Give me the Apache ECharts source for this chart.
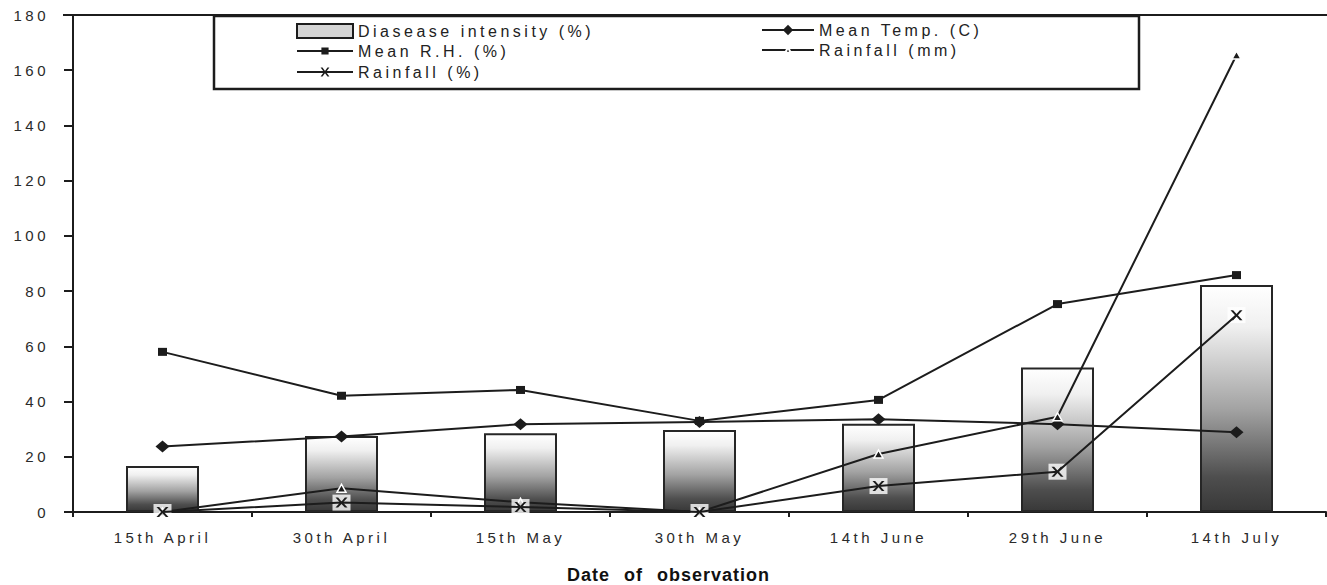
<!DOCTYPE html>
<html><head><meta charset="utf-8">
<script src="https://cdn.jsdelivr.net/npm/echarts@6/dist/echarts.min.js"></script>
<style>
html,body{margin:0;padding:0;background:#fff;}
#chart{width:1327px;height:585px;}
#chart text{letter-spacing:3.5px;}
#chart text[style*="bold"]{letter-spacing:1px;word-spacing:8px;}
</style></head><body><div id="chart"></div>
<script>
const categories = ['15th April','30th April','15th May','30th May','14th June','29th June','14th July'];
const diseaseIntensity = [16.7, 27.5, 28.5, 29.7, 32, 52.3, 82.2];
const meanTemp = [23.7, 27.3, 31.8, 32.6, 33.6, 31.8, 28.9];
const meanRH = [58, 42.1, 44.2, 33, 40.6, 75.3, 85.8];
const rainfallMm = [0, 8.6, 3.5, 0, 21, 34.5, 165.5];
const rainfallPct = [0, 3.4, 1.8, 0, 9.4, 14.6, 71.3];
const yTicks = {min: 0, max: 180, interval: 20};

const FONT = "'Liberation Sans', Arial, sans-serif";
const INK = '#1c1c1c';
const xPath = 'path://M0,0 L2.2,0 L5,3.2 L7.8,0 L10,0 L6.2,4.2 L10,8.4 L7.8,8.4 L5,5.3 L2.2,8.4 L0,8.4 L3.8,4.2 Z';

const barGradient = new echarts.graphic.LinearGradient(0, 0, 0, 1, [
  {offset: 0, color: '#ffffff'},
  {offset: 0.18, color: '#f0f0f0'},
  {offset: 0.55, color: '#a2a2a2'},
  {offset: 0.85, color: '#4e4e4e'},
  {offset: 1, color: '#383838'}
]);

const chart = echarts.init(document.getElementById('chart'), null, {renderer: 'svg'});
const lineCommon = {
  type: 'line', showSymbol: true, showAllSymbol: true, z: 2,
  lineStyle: {color: INK, width: 2},
  itemStyle: {color: INK},
  emphasis: {disabled: true}, animation: false
};
function legendAt(left, top, itemWidth, itemHeight, data) {
  return {
    orient: 'vertical', left: left, top: top, padding: 0, itemGap: 0,
    itemWidth: itemWidth, itemHeight: itemHeight, selectedMode: false,
    textStyle: {fontSize: 16, color: '#222', fontFamily: FONT},
    data: data
  };
}
chart.setOption({
  animation: false,
  textStyle: {fontFamily: FONT},
  grid: {left: 73, right: 1, top: 15, bottom: 73, containLabel: false, outerBoundsMode: 'none'},
  legend: [
    legendAt(296, 23, 56, 14, [{name: 'Diasease intensity (%)', icon: 'rect',
      itemStyle: {color: '#d4d4d4', borderColor: INK, borderWidth: 2}}]),
    legendAt(296, 43, 56, 9, ['Mean R.H. (%)']),
    legendAt(296, 64, 56, 11, ['Rainfall (%)']),
    legendAt(761, 22, 52, 13, ['Mean Temp. (C)']),
    legendAt(761, 42, 52, 7, ['Rainfall (mm)'])
  ],
  graphic: [
    {type: 'rect', z: -1, shape: {x: 214, y: 16, width: 925, height: 73}, style: {fill: '#fff', stroke: INK, lineWidth: 2.5}},
    {type: 'line', z: 5, shape: {x1: 63, y1: 15, x2: 1327, y2: 15}, style: {stroke: INK, lineWidth: 2}}
  ],
  xAxis: {
    type: 'category', data: categories, boundaryGap: true,
    axisLine: {lineStyle: {color: INK, width: 2}},
    axisTick: {show: true, length: 5, lineStyle: {color: INK, width: 2}},
    axisLabel: {fontSize: 15, color: '#2a2a2a', margin: 18, fontFamily: FONT},
    name: 'Date of observation', nameLocation: 'middle', nameGap: 54,
    nameTextStyle: {fontSize: 18, fontWeight: 'bold', color: '#111', fontFamily: FONT, padding: [0, 62, 0, 0]}
  },
  yAxis: {
    type: 'value', min: yTicks.min, max: yTicks.max, interval: yTicks.interval,
    axisLine: {show: true, lineStyle: {color: INK, width: 2}},
    axisTick: {show: true, length: 9, lineStyle: {color: INK, width: 2}},
    axisLabel: {fontSize: 15, color: '#2a2a2a', margin: 24, fontFamily: FONT},
    splitLine: {show: false}
  },
  series: [
    {
      name: 'Diasease intensity (%)', type: 'bar', data: diseaseIntensity, barWidth: 73, z: 1,
      itemStyle: {color: barGradient, borderColor: '#262626', borderWidth: 2},
      emphasis: {disabled: true}
    },
    Object.assign({}, lineCommon, {name: 'Mean Temp. (C)', data: meanTemp, symbol: 'diamond', symbolSize: [14, 12]}),
    Object.assign({}, lineCommon, {name: 'Mean R.H. (%)', data: meanRH, symbol: 'rect', symbolSize: [9, 8]}),
    Object.assign({}, lineCommon, {name: 'Rainfall (mm)', data: rainfallMm, symbol: 'triangle', symbolSize: [9, 8],
      itemStyle: {color: INK, borderColor: '#fff', borderWidth: 1.5}}),
    {
      name: 'rainfallPctBox', type: 'scatter', data: rainfallPct, symbol: 'rect', symbolSize: [18, 16], z: 3,
      itemStyle: {color: '#ffffff'}, silent: true, emphasis: {disabled: true}, tooltip: {show: false}
    },
    Object.assign({}, lineCommon, {name: 'Rainfall (%)', data: rainfallPct, symbol: xPath, symbolSize: [12, 10], z: 4})
  ]
});
</script></body></html>
